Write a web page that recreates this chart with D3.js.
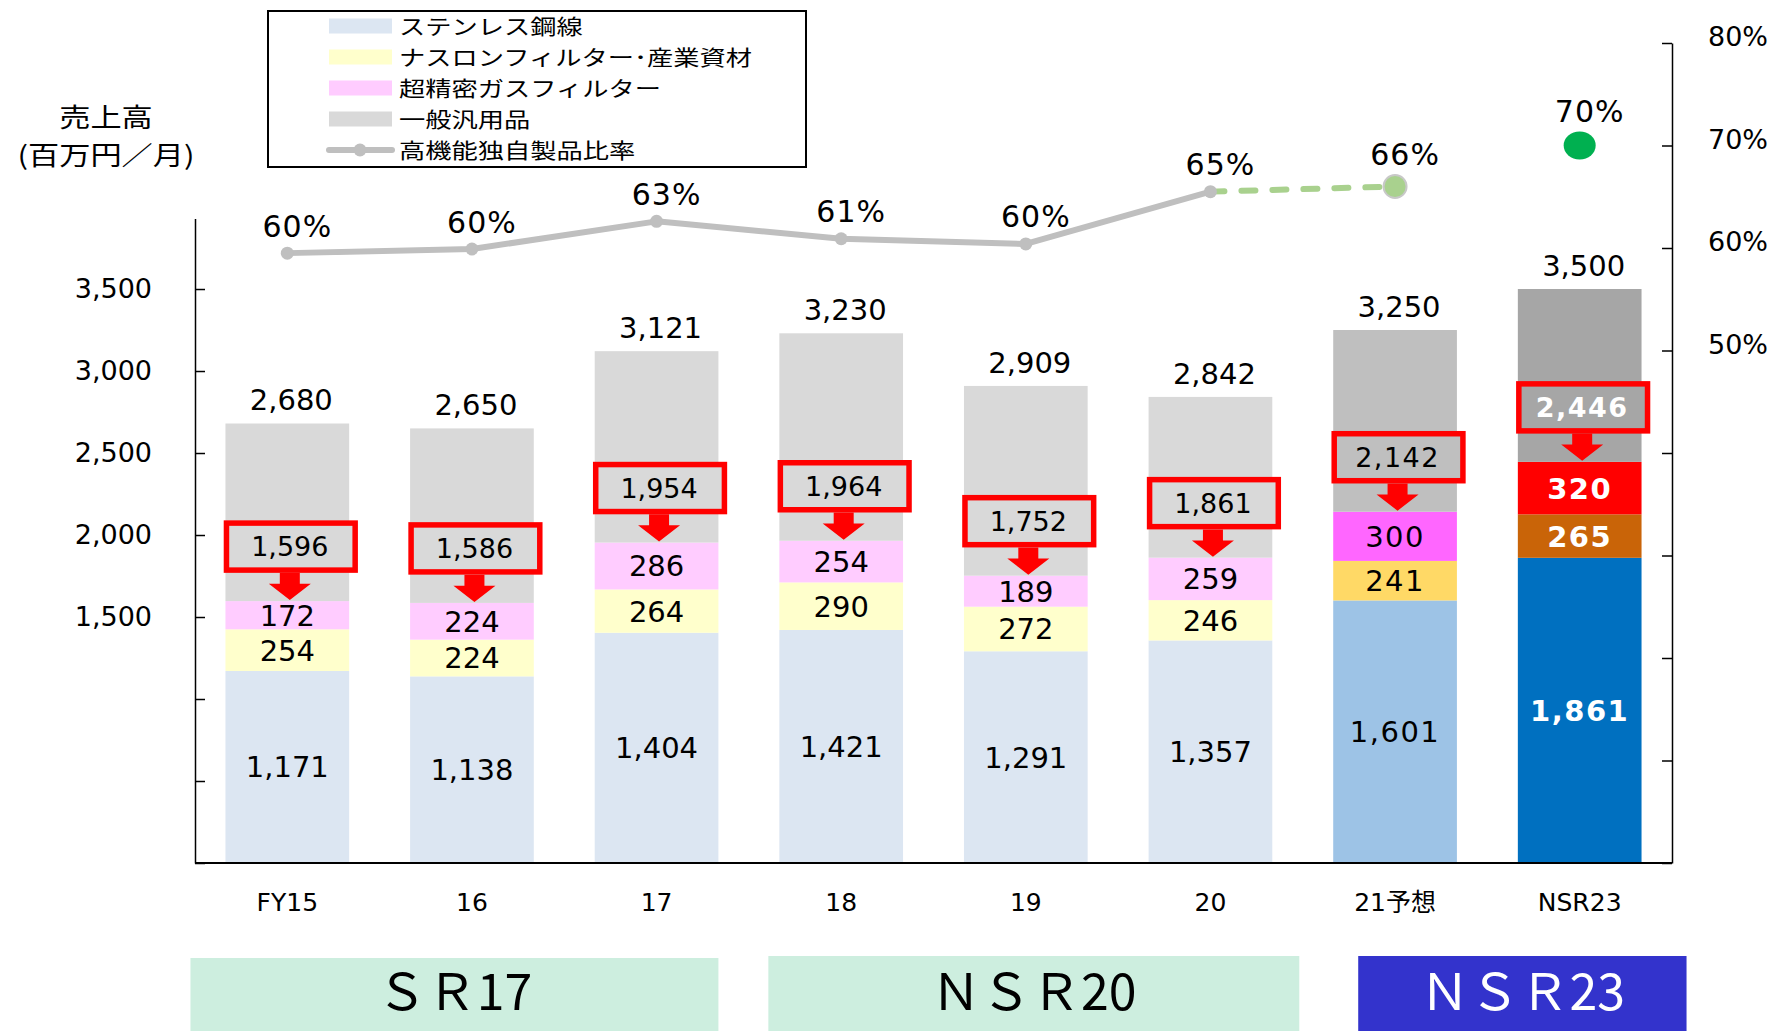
<!DOCTYPE html>
<html>
<head>
<meta charset="utf-8">
<script src="https://cdn.jsdelivr.net/npm/d3@7"></script>
<style>
body { margin: 0; background: #fff; }
text { font-family: "DejaVu Sans", "Noto Sans CJK JP", sans-serif; fill: #000; }
.jp { font-family: "Noto Sans CJK JP", sans-serif; }
</style>
</head>
<body>
<svg id="chart" width="1779" height="1031"></svg>
<script>
// data
const categories = ["FY15", "16", "17", "18", "19", "20", "21予想", "NSR23"];
const stainless  = [1171, 1138, 1404, 1421, 1291, 1357, 1601, 1861];
const naslon     = [254, 224, 264, 290, 272, 246, 241, 265];
const gasFilter  = [172, 224, 286, 254, 189, 259, 300, 320];
const totals     = [2680, 2650, 3121, 3230, 2909, 2842, 3250, 3500];
const subtotalLabels = [1596, 1586, 1954, 1964, 1752, 1861, 2142, 2446];
const ratio      = [59.5, 59.9, 62.6, 60.9, 60.4, 65.5, 66.0, 70.0];
const ratioLabels = ["60%", "60%", "63%", "61%", "60%", "65%", "66%", "70%"];
const seriesNames = ["ステンレス鋼線", "ナスロンフィルター･産業資材", "超精密ガスフィルター", "一般汎用品", "高機能独自製品比率"];
const leftTicks  = [0, 500, 1000, 1500, 2000, 2500, 3000, 3500];
const rightTicks = [0, 10, 20, 30, 40, 50, 60, 70, 80];
const banners = [
  {label: "ＳＲ17", from: "FY15", to: "17"},
  {label: "ＮＳＲ20", from: "18", to: "20"},
  {label: "ＮＳＲ23", from: "21予想", to: "NSR23"}
];

// styles (per bar group: actual / forecast / target)
const palettes = [
  ["#dce6f2", "#ffffcc", "#ffccff", "#d9d9d9"],
  ["#9dc3e6", "#ffd966", "#ff66ff", "#bfbfbf"],
  ["#0070c0", "#c96408", "#ff0000", "#a6a6a6"]
];
const barStyle = [0, 0, 0, 0, 0, 0, 1, 2];
const bannerStyle = [
  {fill: "#cdeedf", color: "#000", pad: [-35, 0], top: 958},
  {fill: "#cdeedf", color: "#000", pad: [-11, 27], top: 956},
  {fill: "#3333cc", color: "#fff", pad: [25, 45], top: 956}
];

const svg = d3.select("#chart");
const left = 195, right = 1672, base = 863;

const x = d3.scaleBand().domain(categories).range([left, right])
  .paddingInner(0.33).paddingOuter(0.165);
const y = d3.scaleLinear().domain([0, 3930]).range([base, 218.5]);
const y2 = d3.scaleLinear().domain([0, 80]).range([base, 43]);
const bw = x.bandwidth();

// japanese text in the original is drawn a bit wide
function wideText(g, tx, ty, str, size, sx, anchor) {
  return g.append("text").attr("class", "jp")
    .attr("transform", `translate(${tx},${ty}) scale(${sx},1)`)
    .attr("text-anchor", anchor || "start")
    .attr("font-size", size)
    .text(str);
}

const rows = categories.map((c, i) => ({
  cat: c, i: i,
  stainless: stainless[i], naslon: naslon[i], gasFilter: gasFilter[i],
  general: totals[i] - stainless[i] - naslon[i] - gasFilter[i]
}));
const keys = ["stainless", "naslon", "gasFilter", "general"];
const layers = d3.stack().keys(keys)(rows);

// bars
let gBars = svg.append("g");
layers.forEach((layer, k) => {
  gBars.selectAll(null).data(layer).join("rect")
    .attr("x", d => x(d.data.cat))
    .attr("width", bw)
    .attr("y", d => y(d[1]))
    .attr("height", d => y(d[0]) - y(d[1]))
    .attr("fill", d => palettes[barStyle[d.data.i]][k]);

  if (k < 3) {
    gBars.selectAll(null).data(layer).join("text")
      .attr("x", d => x(d.data.cat) + bw / 2)
      .attr("y", d => (y(d[0]) + y(d[1])) / 2)
      .attr("dy", "0.36em")
      .attr("text-anchor", "middle")
      .attr("font-size", 29)
      .attr("letter-spacing", d => barStyle[d.data.i] > 0 ? 1.5 : 0)
      .attr("font-weight", d => barStyle[d.data.i] == 2 ? "bold" : "normal")
      .style("fill", d => barStyle[d.data.i] == 2 ? "#fff" : "#000")
      .text(d => d3.format(",")(d.data[layers[k].key]));
  }
});

// totals above the bars
svg.append("g").selectAll("text").data(rows).join("text")
  .attr("x", d => x(d.cat) + bw / 2 + 4)
  .attr("y", d => y(totals[d.i]) - 13)
  .attr("text-anchor", "middle")
  .attr("font-size", 29)
  .text(d => d3.format(",")(totals[d.i]));

// red call-out boxes with arrows
let gBox = svg.append("g");
rows.forEach(d => {
  let cum = d.stainless + d.naslon + d.gasFilter;
  let yc = y(cum);
  let bottom = yc - 31, top = bottom - 47;
  let bx = x(d.cat) + 1, bwid = bw + 5;
  let cx = bx + bwid / 2 - 1;
  let st = barStyle[d.i];

  gBox.append("rect")
    .attr("x", bx).attr("y", top)
    .attr("width", bwid).attr("height", bottom - top)
    .attr("fill", palettes[st][3])
    .attr("stroke", "#ff0000").attr("stroke-width", 5.5);

  gBox.append("text")
    .attr("x", cx).attr("y", (top + bottom) / 2)
    .attr("dy", "0.36em")
    .attr("text-anchor", "middle")
    .attr("font-size", 27)
    .attr("letter-spacing", st > 0 ? 1.5 : 0)
    .attr("font-weight", st == 2 ? "bold" : "normal")
    .style("fill", st == 2 ? "#fff" : "#000")
    .text(d3.format(",")(subtotalLabels[d.i]));

  let a0 = bottom + 2.75;
  gBox.append("path")
    .attr("d", `M${cx - 10},${a0} L${cx + 10},${a0} L${cx + 10},${a0 + 11} L${cx + 21},${a0 + 11} L${cx},${yc - 1} L${cx - 21},${a0 + 11} L${cx - 10},${a0 + 11} Z`)
    .attr("fill", "#ff0000");
});

// left axis
let axL = svg.append("g")
  .attr("transform", `translate(${left},0)`)
  .call(d3.axisLeft(y).tickValues(leftTicks).tickSizeInner(-10).tickSizeOuter(0).tickPadding(43)
    .tickFormat(v => v >= 1500 ? d3.format(",")(v) : ""));
axL.selectAll("text").attr("font-size", 27).attr("font-family", "DejaVu Sans").style("fill", "#000");
axL.selectAll("line, path").attr("stroke", "#000").attr("stroke-width", 1.5);

// right axis
let axR = svg.append("g")
  .attr("transform", `translate(${right},0)`)
  .call(d3.axisRight(y2).tickValues(rightTicks).tickSizeInner(-10).tickSizeOuter(0).tickPadding(36)
    .tickFormat(v => v >= 50 ? v + "%" : ""));
axR.selectAll("text").attr("font-size", 27).attr("font-family", "DejaVu Sans").attr("dy", "0.1em").style("fill", "#000");
axR.selectAll("line, path").attr("stroke", "#000").attr("stroke-width", 1.5);

// baseline
svg.append("line")
  .attr("x1", left).attr("x2", right)
  .attr("y1", base).attr("y2", base)
  .attr("stroke", "#000").attr("stroke-width", 2);

// category labels
svg.append("g").selectAll("text").data(categories).join("text")
  .attr("x", c => x(c) + bw / 2)
  .attr("y", 911)
  .attr("text-anchor", "middle")
  .attr("font-size", 25)
  .text(c => c);

// ratio line
let px = i => x(categories[i]) + bw / 2;
let actual = d3.range(0, 6);
svg.append("path")
  .attr("d", d3.line().x(i => px(i)).y(i => y2(ratio[i]))(actual))
  .attr("fill", "none").attr("stroke", "#bfbfbf").attr("stroke-width", 6)
  .attr("stroke-linejoin", "round");
svg.append("path")
  .attr("d", d3.line().x(i => px(i)).y(i => y2(ratio[i]))([5, 6]))
  .attr("fill", "none").attr("stroke", "#a9d18e").attr("stroke-width", 6)
  .attr("stroke-linecap", "round").attr("stroke-dasharray", "14,17");
svg.append("g").selectAll("circle").data(actual).join("circle")
  .attr("cx", i => px(i)).attr("cy", i => y2(ratio[i])).attr("r", 6.5)
  .attr("fill", "#bfbfbf");
svg.append("circle")
  .attr("cx", px(6)).attr("cy", y2(ratio[6])).attr("r", 11.5)
  .attr("fill", "#a9d18e").attr("stroke", "#c8c8c8").attr("stroke-width", 2);
svg.append("ellipse")
  .attr("cx", px(7)).attr("cy", y2(ratio[7])).attr("rx", 16).attr("ry", 14)
  .attr("fill", "#00b050");

let markR = [6.5, 6.5, 6.5, 6.5, 6.5, 6.5, 11.5, 14];
svg.append("g").selectAll("text").data(ratioLabels).join("text")
  .attr("x", (t, i) => px(i) + 10)
  .attr("y", (t, i) => y2(ratio[i]) - markR[i] - 10)
  .attr("text-anchor", "middle")
  .attr("font-size", 30)
  .attr("letter-spacing", 1)
  .text(t => t);

// y axis title
wideText(svg, 106, 127, "売上高", 26, 1.2, "middle");
wideText(svg, 106, 165, "(百万円／月)", 26, 1.2, "middle");

// legend
let lg = svg.append("g");
lg.append("rect")
  .attr("x", 268).attr("y", 11).attr("width", 538).attr("height", 156)
  .attr("fill", "#fff").attr("stroke", "#000").attr("stroke-width", 2);
seriesNames.forEach((name, k) => {
  let cy = 26 + k * 31;
  if (k < 4) {
    lg.append("rect")
      .attr("x", 329).attr("y", cy - 7.5).attr("width", 63).attr("height", 15)
      .attr("fill", palettes[0][k]);
  } else {
    lg.append("line")
      .attr("x1", 329).attr("x2", 392).attr("y1", cy).attr("y2", cy)
      .attr("stroke", "#bfbfbf").attr("stroke-width", 6).attr("stroke-linecap", "round");
    lg.append("circle").attr("cx", 360).attr("cy", cy).attr("r", 6.5).attr("fill", "#bfbfbf");
  }
  wideText(lg, 399, cy + 7.5, name, 21, 1.25);
});

// period banners
banners.forEach((b, k) => {
  let s = bannerStyle[k];
  let x0 = x(b.from) + s.pad[0];
  let x1 = x(b.to) + bw + s.pad[1];
  svg.append("rect")
    .attr("x", x0).attr("y", s.top)
    .attr("width", x1 - x0).attr("height", 1031 - s.top)
    .attr("fill", s.fill);
  svg.append("text").attr("class", "jp")
    .attr("x", (x0 + x1) / 2).attr("y", 1010)
    .attr("text-anchor", "middle")
    .attr("font-size", 50)
    .style("fill", s.color)
    .text(b.label);
});
</script>
</body>
</html>
